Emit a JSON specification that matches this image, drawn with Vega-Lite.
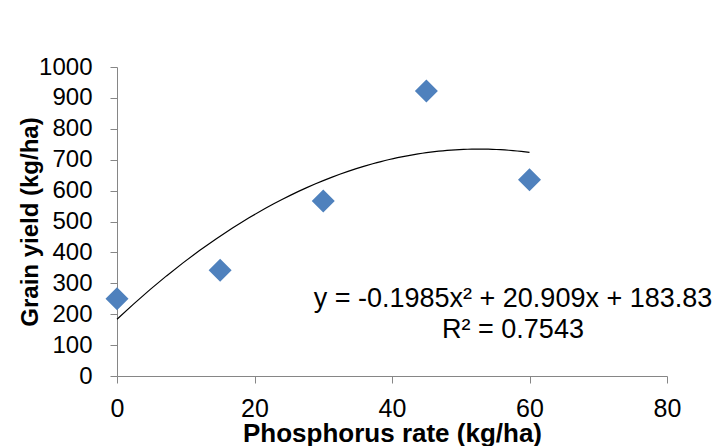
{
  "$schema": "https://vega.github.io/schema/vega-lite/v6.json",
  "width": 550,
  "height": 309,
  "autosize": {"type": "none"},
  "padding": {"left": 117, "top": 67, "right": 53, "bottom": 70},
  "background": "white",
  "config": {
    "view": {"stroke": null},
    "font": "Liberation Sans",
    "axis": {
      "grid": false,
      "labelFlush": false,
      "labelOverlap": false,
      "domainColor": "#868686",
      "tickColor": "#868686",
      "tickSize": 7,
      "labelColor": "#000000",
      "titleColor": "#000000",
      "titleFontWeight": "bold",
      "titleBaseline": "alphabetic"
    },
    "axisX": {
      "labelPadding": 13,
      "labelFontSize": 25,
      "titleFontSize": 26,
      "titleY": 65
    },
    "axisY": {
      "labelPadding": 18,
      "labelFontSize": 24,
      "titleFontSize": 24,
      "titleX": -80
    }
  },
  "datasets": {
    "points": [
      {"rate": 0, "yield": 250},
      {"rate": 15, "yield": 342},
      {"rate": 30, "yield": 566},
      {"rate": 45, "yield": 922},
      {"rate": 60, "yield": 635}
    ],
    "note": [
      {"label": "y = -0.1985x² + 20.909x + 183.83\nR² = 0.7543"}
    ]
  },
  "layer": [
    {
      "data": {"name": "points"},
      "transform": [
        {"regression": "yield", "on": "rate", "method": "poly", "order": 2}
      ],
      "mark": {"type": "line", "color": "#000000", "strokeWidth": 1.2},
      "encoding": {
        "x": {
          "field": "rate",
          "type": "quantitative",
          "scale": {"domain": [0, 80], "nice": false},
          "axis": {"values": [0, 20, 40, 60, 80], "title": "Phosphorus rate (kg/ha)"}
        },
        "y": {
          "field": "yield",
          "type": "quantitative",
          "scale": {"domain": [0, 1000], "nice": false},
          "axis": {
            "values": [0, 100, 200, 300, 400, 500, 600, 700, 800, 900, 1000],
            "format": "d",
            "title": "Grain yield (kg/ha)"
          }
        }
      }
    },
    {
      "data": {"name": "points"},
      "mark": {
        "type": "point",
        "shape": "diamond",
        "filled": true,
        "size": 530,
        "color": "#4F81BD",
        "opacity": 1
      },
      "encoding": {
        "x": {
          "field": "rate",
          "type": "quantitative",
          "axis": {"values": [0, 20, 40, 60, 80], "title": "Phosphorus rate (kg/ha)"}
        },
        "y": {
          "field": "yield",
          "type": "quantitative",
          "axis": {
            "values": [0, 100, 200, 300, 400, 500, 600, 700, 800, 900, 1000],
            "format": "d",
            "title": "Grain yield (kg/ha)"
          }
        }
      }
    },
    {
      "data": {"name": "note"},
      "mark": {
        "type": "text",
        "align": "center",
        "baseline": "alphabetic",
        "fontSize": 27,
        "lineHeight": 31,
        "lineBreak": "\n",
        "color": "#000000"
      },
      "encoding": {
        "text": {"field": "label", "type": "nominal"},
        "x": {
          "datum": 57.6,
          "type": "quantitative",
          "axis": {"values": [0, 20, 40, 60, 80], "title": "Phosphorus rate (kg/ha)"}
        },
        "y": {
          "datum": 223,
          "type": "quantitative",
          "axis": {
            "values": [0, 100, 200, 300, 400, 500, 600, 700, 800, 900, 1000],
            "format": "d",
            "title": "Grain yield (kg/ha)"
          }
        }
      }
    }
  ]
}
